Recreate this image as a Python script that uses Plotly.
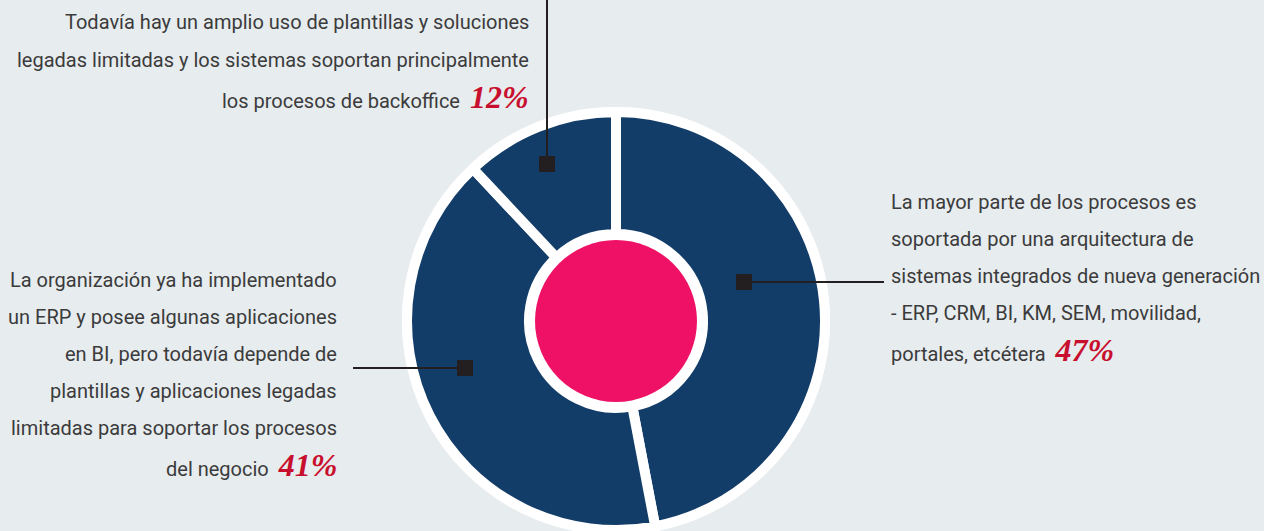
import plotly.graph_objects as go

W, H = 1264, 540  # a little taller than the window so the ring is cut at the bottom

# data
shares = [47, 41, 12]
share_labels = ["47%", "41%", "12%"]
text_47 = [
    "La mayor parte de los procesos es",
    "soportada por una arquitectura de",
    "sistemas integrados de nueva generación",
    "- ERP, CRM, BI, KM, SEM, movilidad,",
    "portales, etcétera",
]
text_41 = [
    "La organización ya ha implementado",
    "un ERP y posee algunas aplicaciones",
    "en BI, pero todavía depende de",
    "plantillas y aplicaciones legadas",
    "limitadas para soportar los procesos",
    "del negocio",
]
text_12 = [
    "Todavía hay un amplio uso de plantillas y soluciones",
    "legadas limitadas y los sistemas soportan principalmente",
    "los procesos de backoffice",
]

BG = "#e7ecee"
NAVY = "#133d69"
PINK = "#ee1166"
RED = "#c8102e"
INK = "#231f20"
TXT = "#3b3b3c"
BODY_FONT = "Roboto, Lato, sans-serif"
PCT_FONT = "Liberation Serif, Times New Roman, serif"

cx, cy = 616, 321


def dom(r):
    return dict(x=[(cx - r) / W, (cx + r) / W],
                y=[(H - cy - r) / H, (H - cy + r) / H])


fig = go.Figure()

# white backing disc
fig.add_trace(go.Pie(values=[1], marker=dict(colors=["white"]), textinfo="none",
                     hoverinfo="skip", showlegend=False, domain=dom(214), sort=False))
# navy donut
fig.add_trace(go.Pie(values=shares, labels=share_labels, sort=False, direction="clockwise",
                     rotation=0, hole=87 / 209,
                     marker=dict(colors=[NAVY] * 3, line=dict(color="white", width=10)),
                     textinfo="none", hoverinfo="label", showlegend=False, domain=dom(209)))
# pink centre
fig.add_trace(go.Pie(values=[1], marker=dict(colors=[PINK]), textinfo="none",
                     hoverinfo="skip", showlegend=False, domain=dom(81), sort=False))

# invisible pixel axes for callouts
fig.add_trace(go.Scatter(x=[0, W], y=[0, H], mode="markers", marker=dict(opacity=0),
                         hoverinfo="skip", showlegend=False))


def pct(s):
    return (f'  <span style="font-family:{PCT_FONT};font-size:32px;color:{RED}">'
            f'<b><i>{s}</i></b></span>')


annotations = []


def block(lines, x, y0, step, anchor, label):
    for i, line in enumerate(lines):
        t = line + (pct(label) if i == len(lines) - 1 else "")
        annotations.append(dict(x=x, y=y0 + i * step, xref="x", yref="y", text=t,
                                showarrow=False, xanchor=anchor, yanchor="middle",
                                font=dict(family=BODY_FONT, size=20, color=TXT)))


block(text_12, 531, 22, 37.5, "right", share_labels[2])
block(text_47, 889, 202, 37, "left", share_labels[0])
block(text_41, 339, 280, 37, "right", share_labels[1])

shapes = []
# callout squares and leader lines (layout positions)
callouts = [
    ((744, 282), (884, 282)),
    ((465, 368), (353, 368)),
    ((547, 164), (547, 0)),
]
for (sx, sy), (ex, ey) in callouts:
    shapes.append(dict(type="line", xref="x", yref="y", x0=sx, y0=sy, x1=ex, y1=ey,
                       line=dict(color=INK, width=2), layer="above"))
    shapes.append(dict(type="rect", xref="x", yref="y", x0=sx - 8, x1=sx + 8,
                       y0=sy - 8, y1=sy + 8, fillcolor=INK, line=dict(width=0),
                       layer="above"))

fig.update_layout(
    width=W, height=H, margin=dict(l=0, r=0, t=0, b=0),
    paper_bgcolor=BG, plot_bgcolor="rgba(0,0,0,0)",
    xaxis=dict(range=[0, W], visible=False, fixedrange=True),
    yaxis=dict(range=[H, 0], visible=False, fixedrange=True),
    annotations=annotations, shapes=shapes, showlegend=False,
)

fig.write_html("out.html", config={"displayModeBar": False},
               post_script="document.body.style.margin='0';"
                           "document.body.style.overflow='hidden';")
